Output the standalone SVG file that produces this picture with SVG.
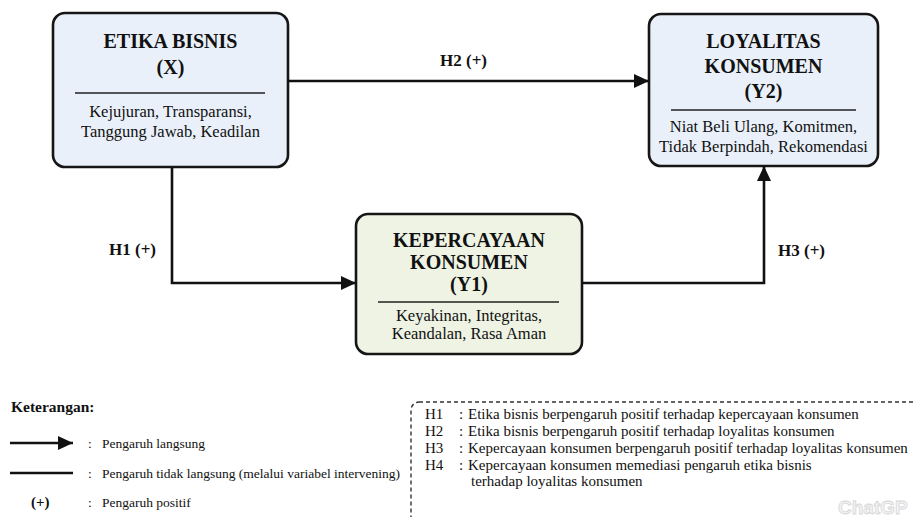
<svg xmlns="http://www.w3.org/2000/svg" width="915" height="517" viewBox="0 0 915 517">
<defs>
<marker id="arr" markerWidth="15" markerHeight="14" refX="15" refY="7" orient="auto" markerUnits="userSpaceOnUse">
<path d="M0,0 L15,7 L0,14 Z" fill="#111"/>
</marker>
<style>
.box{stroke:#161616;stroke-width:2.6}
.blue{fill:#e9f0f9}
.green{fill:#eef3e4}
.div{stroke:#222;stroke-width:1.4}
.t{font-family:"Liberation Serif","Times New Roman",serif;fill:#111}
.title{font-size:20px;font-weight:bold;text-anchor:middle}
.body{font-size:16.5px;text-anchor:middle}
.lbl{font-size:17px;font-weight:bold}
.leg{font-size:13.5px}
.hyp{font-size:15px}
.conn{fill:none;stroke:#111;stroke-width:2.6}
</style>
</defs>
<rect width="915" height="517" fill="#ffffff"/>

<g id="node-x">
<rect class="box blue" x="53" y="13" width="235" height="154" rx="12"/>
<text class="t title" x="170.5" y="48">ETIKA BISNIS</text>
<text class="t title" x="170.5" y="74">(X)</text>
<line class="div" x1="75" y1="93" x2="265" y2="93"/>
<text class="t body" x="170.5" y="117">Kejujuran, Transparansi,</text>
<text class="t body" x="170.5" y="137">Tanggung Jawab, Keadilan</text>
</g>

<g id="node-y2">
<rect class="box blue" x="649" y="14" width="229" height="152" rx="12"/>
<text class="t title" x="763.5" y="48">LOYALITAS</text>
<text class="t title" x="763.5" y="73">KONSUMEN</text>
<text class="t title" x="763.5" y="98">(Y2)</text>
<line class="div" x1="671" y1="110" x2="856" y2="110"/>
<text class="t body" x="763.5" y="132">Niat Beli Ulang, Komitmen,</text>
<text class="t body" x="763.5" y="152">Tidak Berpindah, Rekomendasi</text>
</g>

<g id="node-y1">
<rect class="box green" x="356" y="214" width="226" height="140" rx="12"/>
<text class="t title" x="469" y="247">KEPERCAYAAN</text>
<text class="t title" x="469" y="269">KONSUMEN</text>
<text class="t title" x="469" y="291">(Y1)</text>
<line class="div" x1="378" y1="302" x2="559" y2="302"/>
<text class="t body" x="469" y="321">Keyakinan, Integritas,</text>
<text class="t body" x="469" y="339">Keandalan, Rasa Aman</text>
</g>

<g id="connectors">
<line class="conn" x1="288" y1="81" x2="649" y2="81" marker-end="url(#arr)"/>
<path class="conn" d="M172,167 V283 H356" marker-end="url(#arr)"/>
<path class="conn" d="M582,283 H764 V166" marker-end="url(#arr)"/>
<text class="t lbl" x="440" y="66">H2 (+)</text>
<text class="t lbl" x="109" y="255">H1 (+)</text>
<text class="t lbl" x="778" y="256">H3 (+)</text>
</g>

<g id="legend">
<text class="t" x="11" y="412" style="font-size:15.5px;font-weight:bold">Keterangan:</text>
<line x1="10" y1="443" x2="73" y2="443" stroke="#111" stroke-width="2.4" marker-end="url(#arr)"/>
<text class="t leg" x="88" y="448">:</text>
<text class="t leg" x="102" y="448">Pengaruh langsung</text>
<line x1="10" y1="473" x2="73" y2="473" stroke="#111" stroke-width="2.4"/>
<text class="t leg" x="88" y="478">:</text>
<text class="t leg" x="102" y="478">Pengaruh tidak langsung (melalui variabel intervening)</text>
<text class="t" x="31" y="507" style="font-size:15px;font-weight:bold">(+)</text>
<text class="t leg" x="88" y="507">:</text>
<text class="t leg" x="102" y="507">Pengaruh positif</text>
</g>

<g id="hypotheses">
<rect x="411" y="402" width="530" height="140" rx="8" fill="none" stroke="#333" stroke-width="1.4" stroke-dasharray="4 3"/>
<text class="t hyp" x="425" y="419">H1</text>
<text class="t hyp" x="459" y="419">:</text>
<text class="t hyp" x="468" y="419">Etika bisnis berpengaruh positif terhadap kepercayaan konsumen</text>
<text class="t hyp" x="425" y="436">H2</text>
<text class="t hyp" x="459" y="436">:</text>
<text class="t hyp" x="468" y="436">Etika bisnis berpengaruh positif terhadap loyalitas konsumen</text>
<text class="t hyp" x="425" y="453">H3</text>
<text class="t hyp" x="459" y="453">:</text>
<text class="t hyp" x="468" y="453">Kepercayaan konsumen berpengaruh positif terhadap loyalitas konsumen</text>
<text class="t hyp" x="425" y="470">H4</text>
<text class="t hyp" x="459" y="470">:</text>
<text class="t hyp" x="468" y="470">Kepercayaan konsumen memediasi pengaruh etika bisnis</text>
<text class="t hyp" x="471" y="486">terhadap loyalitas konsumen</text>
</g>

<text x="838" y="514" style="font-family:'Liberation Sans',Arial,sans-serif;font-size:19px;font-weight:bold;fill:#f4f4f4;stroke:#d6d6d6;stroke-width:0.8">ChatGP</text>
</svg>
